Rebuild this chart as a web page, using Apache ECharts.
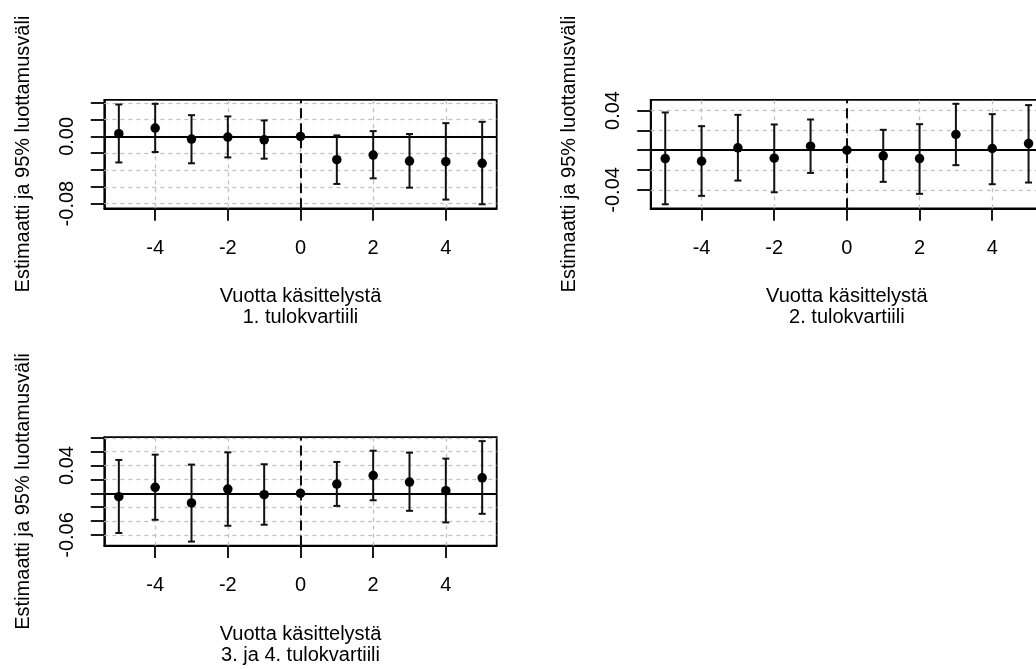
<!DOCTYPE html>
<html>
<head>
<meta charset="utf-8">
<script src="https://cdn.jsdelivr.net/npm/echarts@6/dist/echarts.min.js"></script>
<style>
html,body{margin:0;padding:0;background:#fff;}
#c{width:1036px;height:669px;}
</style>
</head>
<body>
<div id="c"></div>
<script>
// ---- data ----
const years = [-5, -4, -3, -2, -1, 0, 1, 2, 3, 4, 5];

const q1Est = [0.0032, 0.0099, -0.0032, -0.0008, -0.0040, 0, -0.0277, -0.0222, -0.0293, -0.0301, -0.0320];
const q1Lo  = [-0.0310, -0.0186, -0.0320, -0.0250, -0.0265, 0, -0.0566, -0.0499, -0.0610, -0.0752, -0.0808];
const q1Hi  = [0.0380, 0.0388, 0.0253, 0.0238, 0.0190, 0, 0.0012, 0.0063, 0.0028, 0.0158, 0.0174];

const q2Est = [-0.0084, -0.0111, 0.0024, -0.0081, 0.0040, 0, -0.0057, -0.0084, 0.0158, 0.0017, 0.0067];
const q2Lo  = [-0.0545, -0.0460, -0.0306, -0.0424, -0.0229, 0, -0.0319, -0.0440, -0.0151, -0.0343, -0.0326];
const q2Hi  = [0.0380, 0.0242, 0.0356, 0.0259, 0.0309, 0, 0.0205, 0.0262, 0.0467, 0.0363, 0.0454];

const q34Est = [-0.0048, 0.0086, -0.0138, 0.0062, -0.0019, 0, 0.0133, 0.0257, 0.0162, 0.0038, 0.0224];
const q34Lo  = [-0.0571, -0.0381, -0.0695, -0.0467, -0.0452, 0, -0.0181, -0.0100, -0.0252, -0.0419, -0.0295];
const q34Hi  = [0.0481, 0.0557, 0.0414, 0.0590, 0.0419, 0, 0.0452, 0.0614, 0.0586, 0.0500, 0.0752];

const xTicks = [-4, -2, 0, 2, 4];
const q1YTicks = [-0.08, -0.06, -0.04, -0.02, 0, 0.02, 0.04];
const q1YLabels = [-0.08, 0];
const q2YTicks = [-0.04, -0.02, 0, 0.02, 0.04];
const q2YLabels = [-0.04, 0.04];
const q34YTicks = [-0.06, -0.04, -0.02, 0, 0.02, 0.04, 0.06, 0.08];
const q34YLabels = [-0.06, 0.04];

const yTitle = 'Estimaatti ja 95% luottamusväli';
const xTitles = ['Vuotta käsittelystä\n1. tulokvartiili', 'Vuotta käsittelystä\n2. tulokvartiili', 'Vuotta käsittelystä\n3. ja 4. tulokvartiili'];

// ---- chart ----
const FONT = '"Liberation Sans", Arial, Helvetica, sans-serif';
const panels = [
  {est: q1Est, lo: q1Lo, hi: q1Hi, yTicks: q1YTicks, yLabels: q1YLabels, grid: {left: 104.3, top: 99.8, width: 392.4, height: 108.5}},
  {est: q2Est, lo: q2Lo, hi: q2Hi, yTicks: q2YTicks, yLabels: q2YLabels, grid: {left: 650.7, top: 99.8, width: 392.4, height: 108.5}},
  {est: q34Est, lo: q34Lo, hi: q34Hi, yTicks: q34YTicks, yLabels: q34YLabels, grid: {left: 104.3, top: 437.1, width: 392.4, height: 108.5}}
];

function rRange(lo, hi) {
  const mn = Math.min(...lo), mx = Math.max(...hi);
  const d = (mx - mn) * 0.04;
  return [mn - d, mx + d];
}

const grids = [], xAxes = [], yAxes = [], series = [];
panels.forEach((p, i) => {
  grids.push(Object.assign({show: true, borderColor: '#000', borderWidth: 1.8, backgroundColor: 'transparent', outerBoundsMode: 'none', containLabel: false}, p.grid));
  const yr = rRange(p.lo, p.hi);
  xAxes.push({
    type: 'value', gridIndex: i, min: -5.4, max: 5.4, position: 'bottom',
    axisLine: {show: true, onZero: false, lineStyle: {color: '#000', width: 1.8}},
    axisTick: {show: true, customValues: xTicks, length: 12.5, lineStyle: {color: '#000', width: 1.8}},
    axisLabel: {show: true, customValues: xTicks, margin: 30, fontSize: 20, lineHeight: 20, color: '#000', fontFamily: FONT,
      formatter: v => String(v)},
    splitLine: {show: false},
    name: xTitles[i], nameLocation: 'middle', nameGap: 78,
    nameTextStyle: {fontSize: 20, lineHeight: 21, color: '#000', fontFamily: FONT}
  });
  yAxes.push({
    type: 'value', gridIndex: i, min: yr[0], max: yr[1], position: 'left',
    axisLine: {show: true, onZero: false, lineStyle: {color: '#000', width: 1.8}},
    axisTick: {show: true, customValues: p.yTicks, length: 13.5, lineStyle: {color: '#000', width: 1.8}},
    axisLabel: {show: true, customValues: p.yLabels, rotate: 90, margin: 27, fontSize: 20, lineHeight: 20, color: '#000', fontFamily: FONT,
      formatter: v => v.toFixed(2)},
    splitLine: {show: false},
    name: yTitle, nameLocation: 'middle', nameGap: 71,
    nameTextStyle: {fontSize: 20, lineHeight: 20, color: '#000', fontFamily: FONT}
  });

  const gridLines = [];
  p.yTicks.forEach(v => gridLines.push({yAxis: v, lineStyle: {color: '#c0c0c0', width: 1.3, type: [4, 4]}}));
  xTicks.forEach(v => gridLines.push({xAxis: v, lineStyle: {color: '#c0c0c0', width: 1.3, type: [4, 4]}}));
  gridLines.push({yAxis: 0, lineStyle: {color: '#000', width: 1.9, type: 'solid'}});
  gridLines.push({xAxis: 0, lineStyle: {color: '#000', width: 1.9, type: [10, 5]}});

  // reference grid and zero lines (behind the marks)
  series.push({
    type: 'scatter', xAxisIndex: i, yAxisIndex: i, z: 1, silent: true, data: [],
    markLine: {silent: true, z: 1, symbol: ['none', 'none'], label: {show: false}, animation: false, data: gridLines}
  });
  // confidence intervals
  series.push({
    type: 'custom', xAxisIndex: i, yAxisIndex: i, z: 3, silent: true,
    data: years.map((x, k) => [x, p.lo[k], p.hi[k]]),
    encode: {x: 0, y: [1, 2]},
    renderItem: function (params, api) {
      const x = api.value(0), lo = api.value(1), hi = api.value(2);
      if (lo === hi) return {type: 'group', children: []};
      const a = api.coord([x, lo]), b = api.coord([x, hi]);
      const cap = 3.5;
      const st = {stroke: '#111', lineWidth: 2};
      return {type: 'group', children: [
        {type: 'line', shape: {x1: a[0], y1: a[1], x2: b[0], y2: b[1]}, style: st},
        {type: 'line', shape: {x1: a[0] - cap, y1: a[1], x2: a[0] + cap, y2: a[1]}, style: st},
        {type: 'line', shape: {x1: b[0] - cap, y1: b[1], x2: b[0] + cap, y2: b[1]}, style: st}
      ]};
    }
  });
  // point estimates
  series.push({
    type: 'scatter', xAxisIndex: i, yAxisIndex: i, z: 4, silent: true,
    symbol: 'circle', symbolSize: 9.5,
    itemStyle: {color: '#000', opacity: 1},
    data: years.map((x, k) => [x, p.est[k]])
  });
});

const chart = echarts.init(document.getElementById('c'), null, {renderer: 'canvas'});
chart.setOption({
  animation: false,
  backgroundColor: '#fff',
  textStyle: {fontFamily: FONT},
  grid: grids, xAxis: xAxes, yAxis: yAxes, series: series
});
</script>
</body>
</html>
